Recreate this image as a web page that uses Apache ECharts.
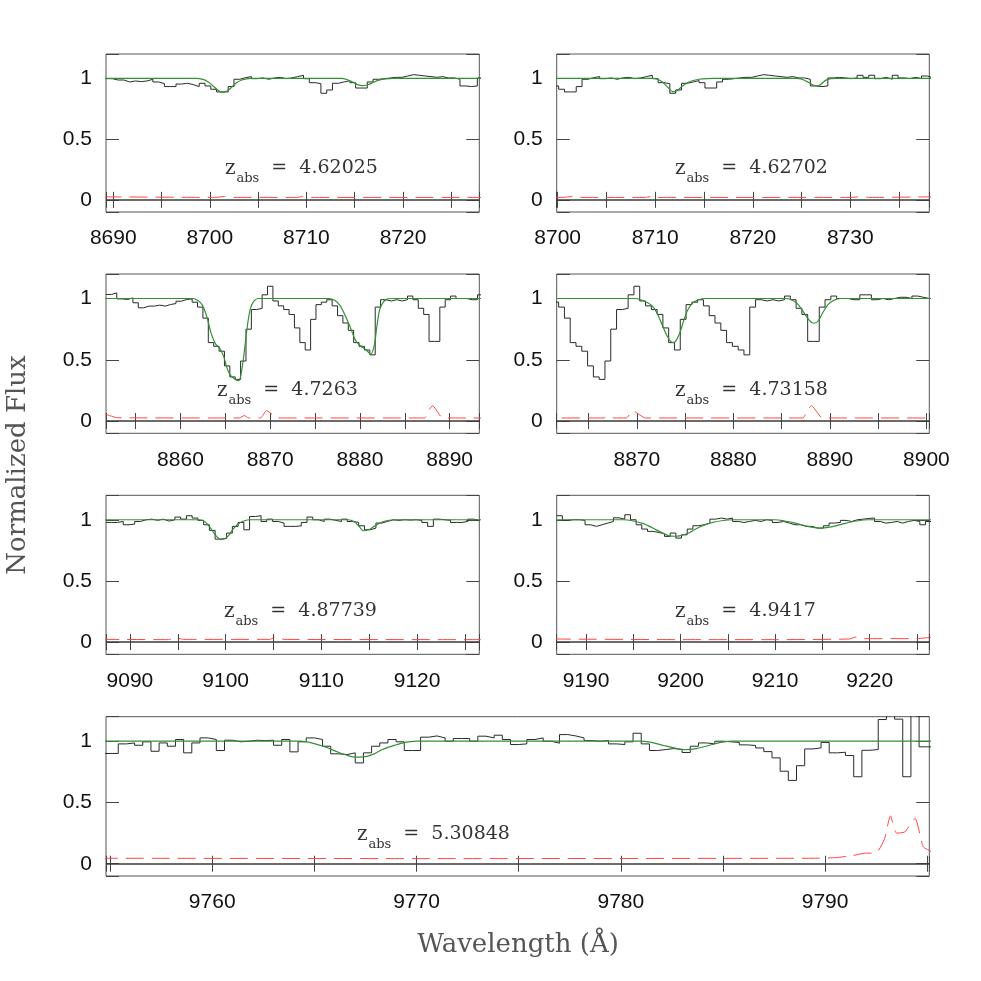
<!DOCTYPE html>
<html>
<head>
<meta charset="utf-8">
<script src="https://cdn.jsdelivr.net/npm/echarts@6/dist/echarts.min.js"></script>
<style>
  html, body { margin: 0; padding: 0; background: #fff; }
  #chart { width: 981px; height: 981px; }
</style>
</head>
<body>
<div id="chart"></div>
<script>
// spectra: flux per pixel, pixels start at lam0 and are dlam wide
const specA_lam0 = 8689.3, specA_dlam = 0.6;
const specA_flux = [
  0.997, 0.986, 0.986, 0.97, 0.978, 0.973, 0.978, 0.992, 0.97, 0.956,
  0.932, 0.932, 0.953, 0.959, 0.948, 0.932, 0.959, 0.937, 0.91, 0.888,
  0.888, 0.932, 0.992, 1.005, 1.014, 0.997, 1.003, 0.992, 1.003, 1.008,
  0.997, 1.003, 1.014, 1.025, 0.997, 0.964, 0.956, 0.877, 0.904, 0.959,
  0.97, 0.981, 0.964, 0.92, 0.92, 0.97, 0.992, 0.997, 1.003, 1.008,
  1.008, 1.019, 1.03, 1.025, 1.019, 1.014, 1.008, 1.014, 1.003, 1.003,
  0.992, 0.937, 0.932, 0.937, 1.003, 1.008, 1.003, 0.997, 1.003, 1.025,
  1.008, 1.025, 0.997, 1.008, 0.992, 1.025, 1.003, 0.997, 1.008, 0.997,
  1.019, 1.003
];

const specB_lam0 = 8851.7, specB_dlam = 0.6;
const specB_flux = [
  1.033, 1.046, 0.997, 0.992, 1.005, 0.965, 0.924, 0.938, 0.938, 0.946,
  0.938, 0.951, 0.959, 0.978, 0.992, 0.997, 0.97, 0.93, 0.84, 0.64,
  0.61, 0.57, 0.45, 0.36, 0.34, 0.49, 0.75, 0.91, 0.92, 1.03,
  1.1, 0.98, 0.94, 0.91, 0.87, 0.76, 0.64, 0.58, 0.83, 0.95,
  0.97, 0.99, 0.94, 0.86, 0.80, 0.74, 0.64, 0.61, 0.58, 0.54,
  0.93, 0.99, 0.98, 0.99, 0.98, 0.99, 1.02, 0.99, 0.92, 0.87,
  0.65, 0.65, 0.93, 0.99, 1.02, 1.0, 1.0, 0.99, 0.99, 1.03,
  1.03, 0.99, 1.0, 0.99, 1.0, 1.01, 1.01, 1.0, 1.02, 1.01, 1.0
];

const specC_lam0 = 9087.5, specC_dlam = 0.6;
const specC_flux = [
  0.978, 0.978, 0.986, 0.959, 0.965, 0.986, 1.0, 1.005, 0.995, 1.005,
  0.989, 1.0, 1.022, 1.005, 1.033, 1.014, 0.995, 0.959, 0.913, 0.842,
  0.847, 0.891, 0.946, 0.978, 0.918, 1.027, 1.033, 0.986, 1.005, 0.986,
  0.973, 0.946, 0.946, 0.95, 0.978, 1.022, 1.0, 0.986, 1.005, 0.995,
  0.986, 1.005, 0.986, 0.978, 0.951, 0.918, 0.932, 0.973, 0.986, 1.0,
  0.995, 1.0, 0.997, 1.0, 0.995, 0.978, 0.946, 1.005, 1.0, 0.995,
  0.978, 0.978, 0.986, 1.005, 0.995
];

const specD_lam0 = 9186.9, specD_dlam = 0.6;
const specD_flux = [
  1.033, 0.995, 1.0, 1.0, 0.995, 0.959, 0.946, 0.959, 0.973, 0.986,
  1.016, 1.005, 1.041, 1.0, 0.959, 0.924, 0.905, 0.896, 0.886, 0.864,
  0.891, 0.85, 0.877, 0.924, 0.951, 0.959, 0.973, 1.005, 1.014, 1.005,
  1.014, 0.986, 0.978, 0.986, 0.995, 0.986, 1.0, 0.995, 0.978, 0.986,
  0.973, 0.959, 0.959, 0.946, 0.946, 0.932, 0.932, 0.951, 0.973, 0.978,
  0.995, 0.986, 1.0, 1.005, 1.011, 1.014, 0.986, 0.973, 0.978, 0.986,
  0.973, 0.986, 0.995, 0.986, 0.959, 0.986
];

const specE_lam0 = 9754.6, specE_dlam = 0.4;
const specE_flux = [
  0.9, 0.9, 0.978, 0.986, 0.967, 0.995, 0.918, 0.986, 0.959, 1.014,
  0.905, 0.986, 1.027, 1.014, 0.924, 1.008, 0.995, 1.0, 1.008, 1.005,
  1.008, 0.967, 1.014, 0.913, 0.995, 1.027, 1.014, 0.959, 0.897, 0.891,
  0.905, 0.823, 0.905, 0.959, 0.986, 1.014, 0.995, 0.924, 0.924, 1.033,
  1.043, 1.027, 1.0, 1.022, 1.022, 1.0, 1.041, 1.027, 1.049, 1.014,
  0.973, 0.978, 1.014, 1.027, 1.0, 0.984, 1.054, 1.043, 1.027, 1.005,
  1.0, 1.005, 0.978, 0.973, 0.995, 1.065, 0.978, 0.924, 0.932, 0.94,
  0.932, 0.908, 0.959, 0.986, 0.978, 1.0, 0.995, 0.99, 0.97, 0.965,
  0.945, 0.915, 0.864, 0.755, 0.68, 0.80, 0.937, 0.945, 0.99, 0.905,
  0.91, 0.883, 0.71, 0.926, 0.932, 1.177, 1.22, 1.18, 0.71, 1.35,
  0.954, 0.954
];

// Voigt profile fits [wavelength, flux]
const fitA1 = [[8689, 1], [8698.6, 1], [8699.2, 0.993], [8699.8, 0.972], [8700.3, 0.94], [8700.8, 0.905], [8701.3, 0.885], [8701.8, 0.895], [8702.3, 0.93], [8702.8, 0.965], [8703.4, 0.988], [8704.2, 0.999], [8705, 1], [8713.6, 1], [8714.2, 0.99], [8714.8, 0.97], [8715.3, 0.948], [8715.8, 0.94], [8716.3, 0.945], [8716.9, 0.965], [8717.5, 0.985], [8718.2, 0.996], [8719, 1], [8739, 1]];
const fitA2 = [[8699, 1], [8709.8, 1], [8710.3, 0.99], [8710.8, 0.965], [8711.3, 0.925], [8711.8, 0.89], [8712.2, 0.895], [8712.7, 0.93], [8713.2, 0.96], [8713.8, 0.98], [8714.5, 0.992], [8715.3, 0.998], [8716, 1], [8724.5, 1], [8725.1, 0.99], [8725.7, 0.968], [8726.2, 0.945], [8726.6, 0.937], [8727, 0.952], [8727.5, 0.985], [8728, 0.998], [8728.5, 1], [8739, 1]];
const fitB1 = [[8851, 1], [8861.4, 1], [8861.9, 0.985], [8862.4, 0.95], [8862.9, 0.86], [8863.4, 0.72], [8863.9, 0.63], [8864.4, 0.59], [8864.8, 0.53], [8865.2, 0.43], [8865.6, 0.37], [8866.1, 0.34], [8866.5, 0.33], [8866.9, 0.45], [8867.2, 0.62], [8867.5, 0.8], [8867.8, 0.92], [8868.2, 0.98], [8868.7, 1], [8876.5, 1], [8877.2, 0.985], [8877.8, 0.94], [8878.3, 0.87], [8878.9, 0.77], [8879.5, 0.66], [8880.1, 0.61], [8880.7, 0.58], [8881.2, 0.545], [8881.6, 0.62], [8881.9, 0.78], [8882.2, 0.91], [8882.6, 0.97], [8883, 0.995], [8883.5, 1], [8901, 1]];
const fitB2 = [[8851, 1], [8869.8, 1], [8870.4, 0.99], [8871, 0.97], [8871.6, 0.94], [8872.1, 0.88], [8872.6, 0.79], [8873.1, 0.7], [8873.5, 0.65], [8873.8, 0.64], [8874.1, 0.66], [8874.5, 0.73], [8874.9, 0.83], [8875.3, 0.91], [8875.8, 0.965], [8876.4, 0.99], [8877.1, 1], [8885.4, 1], [8886, 0.99], [8886.6, 0.96], [8887.1, 0.91], [8887.6, 0.85], [8888.1, 0.805], [8888.5, 0.8], [8888.9, 0.83], [8889.3, 0.89], [8889.8, 0.95], [8890.4, 0.985], [8891.1, 1], [8901, 1]];
const fitC = [[9087, 1], [9097.2, 1], [9097.7, 0.99], [9098.2, 0.955], [9098.7, 0.9], [9099.1, 0.86], [9099.5, 0.84], [9099.9, 0.845], [9100.3, 0.87], [9100.8, 0.925], [9101.3, 0.965], [9101.9, 0.99], [9102.6, 1], [9112.8, 1], [9113.4, 0.985], [9113.9, 0.95], [9114.4, 0.91], [9115, 0.92], [9115.6, 0.95], [9116.3, 0.98], [9117.1, 0.996], [9118, 1], [9127, 1]];
const fitD = [[9186, 1], [9194, 1], [9195, 0.99], [9196, 0.97], [9197, 0.935], [9198, 0.895], [9198.8, 0.868], [9199.4, 0.865], [9200, 0.87], [9200.8, 0.89], [9201.6, 0.925], [9202.5, 0.955], [9203.4, 0.978], [9204.5, 0.994], [9205.5, 1], [9210, 1], [9211, 0.99], [9212, 0.975], [9213, 0.955], [9214, 0.937], [9214.8, 0.932], [9215.6, 0.937], [9216.5, 0.952], [9217.5, 0.972], [9218.6, 0.99], [9219.8, 1], [9227, 1]];
const fitE = [[9754, 1], [9764.3, 1], [9764.9, 0.985], [9765.5, 0.955], [9766.1, 0.915], [9766.6, 0.885], [9767, 0.87], [9767.4, 0.872], [9767.9, 0.895], [9768.3, 0.93], [9768.8, 0.96], [9769.3, 0.985], [9770, 1], [9780.9, 1], [9781.5, 0.99], [9782.1, 0.965], [9782.7, 0.942], [9783.1, 0.932], [9783.7, 0.94], [9784.3, 0.965], [9784.9, 0.99], [9785.5, 1], [9796, 1]];

// 1-sigma error arrays [wavelength, error]
const errA = [[8689, 0.025], [8700.5, 0.02], [8701.5, 0.027], [8702.5, 0.02], [8709, 0.02], [8709.6, 0.027], [8710.3, 0.02], [8730, 0.02], [8731, 0.025], [8732, 0.02], [8738.5, 0.025]];
const errB = [[8851.5, 0.06], [8852.3, 0.04], [8853, 0.027], [8866.6, 0.025], [8867.1, 0.045], [8867.6, 0.025], [8868.9, 0.025], [8869.6, 0.085], [8870.3, 0.05], [8870.9, 0.025], [8887.2, 0.025], [8887.6, 0.08], [8888.1, 0.125], [8888.6, 0.08], [8889.1, 0.03], [8889.6, 0.025], [8900.5, 0.025]];
const errC = [[9087, 0.022], [9094, 0.02], [9094.8, 0.035], [9095.6, 0.022], [9104.6, 0.022], [9105.3, 0.045], [9106.1, 0.022], [9127, 0.02]];
const errD = [[9186.5, 0.025], [9200, 0.02], [9210, 0.02], [9217.8, 0.025], [9218.5, 0.04], [9219.2, 0.028], [9225, 0.028], [9226.5, 0.04]];
const errE = [[9754.5, 0.045], [9770, 0.042], [9789.5, 0.045], [9790.5, 0.05], [9791.3, 0.065], [9791.9, 0.085], [9792.5, 0.09], [9792.9, 0.2], [9793.2, 0.39], [9793.5, 0.25], [9793.9, 0.26], [9794.4, 0.37], [9794.8, 0.14], [9795.2, 0.1]];

const zLabels = ['4.62025', '4.62702', '4.7263', '4.73158', '4.87739', '4.9417', '5.30848'];
const yTickLabels = ['0', '0.5', '1'];

function stepPoints(lam0, dlam, flux) {
  const pts = flux.map((f, i) => [lam0 + i * dlam, f]);
  pts.push([lam0 + flux.length * dlam, flux[flux.length - 1]]);
  return pts;
}

const specA = stepPoints(specA_lam0, specA_dlam, specA_flux);
const specB = stepPoints(specB_lam0, specB_dlam, specB_flux);
const specC = stepPoints(specC_lam0, specC_dlam, specC_flux);
const specD = stepPoints(specD_lam0, specD_dlam, specD_flux);
const specE = stepPoints(specE_lam0, specE_dlam, specE_flux);

// layout of the seven panels
const panels = [
  { spec: specA, fit: fitA1, err: errA, xr: [8689.25, 8727.9], box: [106, 54, 373.3, 158], txt: [225, 159] },
  { spec: specA, fit: fitA2, err: errA, xr: [8699.9, 8738.1], box: [556.7, 54, 372.6, 158], txt: [675, 159] },
  { spec: specB, fit: fitB1, err: errB, xr: [8851.7, 8893.3], box: [106, 274, 373.3, 159.3], txt: [217, 381] },
  { spec: specB, fit: fitB2, err: errB, xr: [8861.7, 8900.3], box: [556.7, 274, 372.6, 159.3], txt: [675, 381] },
  { spec: specC, fit: fitC, err: errC, xr: [9087.5, 9126.5], box: [106, 495.3, 373.3, 159], txt: [224, 602] },
  { spec: specD, fit: fitD, err: errD, xr: [9186.9, 9226.3], box: [556.7, 495.3, 372.6, 159], txt: [675, 602] },
  { spec: specE, fit: fitE, err: errE, xr: [9754.8, 9795.1], box: [106, 716.7, 823.3, 159.3], txt: [357, 825] }
];

const tickColor = '#444';
const labelFont = { fontFamily: 'Liberation Sans', fontSize: 21, color: '#111' };

const grid = [], xAxis = [], yAxis = [], series = [], graphic = [];

panels.forEach((p, g) => {
  grid.push({
    left: p.box[0], top: p.box[1], width: p.box[2], height: p.box[3],
    show: true, borderColor: '#555', borderWidth: 1, backgroundColor: 'transparent'
  });
  const xBase = {
    type: 'value', gridIndex: g, min: p.xr[0], max: p.xr[1], splitNumber: 8,
    axisLine: { show: false }, splitLine: { show: false },
    axisTick: { inside: true, length: 8, lineStyle: { color: tickColor } }
  };
  xAxis.push(Object.assign({}, xBase, {
    position: 'bottom',
    axisLabel: Object.assign({
      margin: 16,
      formatter: v => (Math.abs(v / 10 - Math.round(v / 10)) < 1e-6 ? String(Math.round(v)) : '')
    }, labelFont)
  }));
  xAxis.push(Object.assign({}, xBase, { position: 'top', axisLabel: { show: false } }));
  const yBase = {
    type: 'value', gridIndex: g, min: -0.1, max: 1.2, splitNumber: 3,
    axisLine: { show: false }, splitLine: { show: false },
    axisTick: { inside: true, length: 13, lineStyle: { color: tickColor } }
  };
  yAxis.push(Object.assign({}, yBase, {
    position: 'left',
    axisLabel: Object.assign({
      margin: 14,
      formatter: v => {
        const hit = yTickLabels.find(t => Math.abs(parseFloat(t) - v) < 1e-6);
        return hit === undefined ? '' : hit;
      }
    }, labelFont)
  }));
  yAxis.push(Object.assign({}, yBase, { position: 'right', axisLabel: { show: false } }));

  const xi = 2 * g, yi = 2 * g;
  series.push({
    type: 'line', xAxisIndex: xi, yAxisIndex: yi, data: p.spec, step: 'end',
    symbol: 'none', clip: true, silent: true,
    lineStyle: { color: '#2a2a2a', width: 1 },
    markLine: {
      silent: true, symbol: ['none', 'none'], label: { show: false },
      lineStyle: { color: '#3a3a3a', width: 1.5, type: 'solid' },
      data: [{ yAxis: 0 }]
    },
    z: 3
  });
  series.push({
    type: 'line', xAxisIndex: xi, yAxisIndex: yi, data: p.fit, smooth: 0.3,
    symbol: 'none', clip: true, silent: true,
    lineStyle: { color: '#339033', width: 1.2 }, z: 4
  });
  series.push({
    type: 'line', xAxisIndex: xi, yAxisIndex: yi, data: p.err, smooth: 0.2,
    symbol: 'none', clip: true, silent: true,
    lineStyle: { color: '#ff4444', width: 1, type: [18, 8] }, z: 2
  });

  graphic.push({
    type: 'text', x: p.txt[0], y: p.txt[1], silent: true,
    style: {
      text: '{z|z}{s|abs}{t|  =  ' + zLabels[g] + '}',
      verticalAlign: 'top',
      rich: {
        z: { fontFamily: 'DejaVu Serif', fontSize: 20, lineHeight: 22, verticalAlign: 'top', fill: '#333' },
        s: { fontFamily: 'DejaVu Serif', fontSize: 13, lineHeight: 14, padding: [13, 0, 0, 1], verticalAlign: 'top', fill: '#333' },
        t: { fontFamily: 'DejaVu Serif', fontSize: 19, lineHeight: 22, verticalAlign: 'top', fill: '#333' }
      }
    }
  });
});

graphic.push({
  type: 'text', x: 18, y: 465, rotation: Math.PI / 2, silent: true,
  style: { text: 'Normalized Flux', fontFamily: 'DejaVu Serif', fontSize: 26, fill: '#555', align: 'center', verticalAlign: 'middle' }
});
graphic.push({
  type: 'text', x: 518, y: 945, silent: true,
  style: { text: 'Wavelength (Å)', fontFamily: 'DejaVu Serif', fontSize: 26, fill: '#555', align: 'center', verticalAlign: 'middle' }
});

const chart = echarts.init(document.getElementById('chart'));
chart.setOption({
  backgroundColor: '#fff',
  animation: false,
  grid: grid,
  xAxis: xAxis,
  yAxis: yAxis,
  series: series,
  graphic: graphic
});
</script>
</body>
</html>
